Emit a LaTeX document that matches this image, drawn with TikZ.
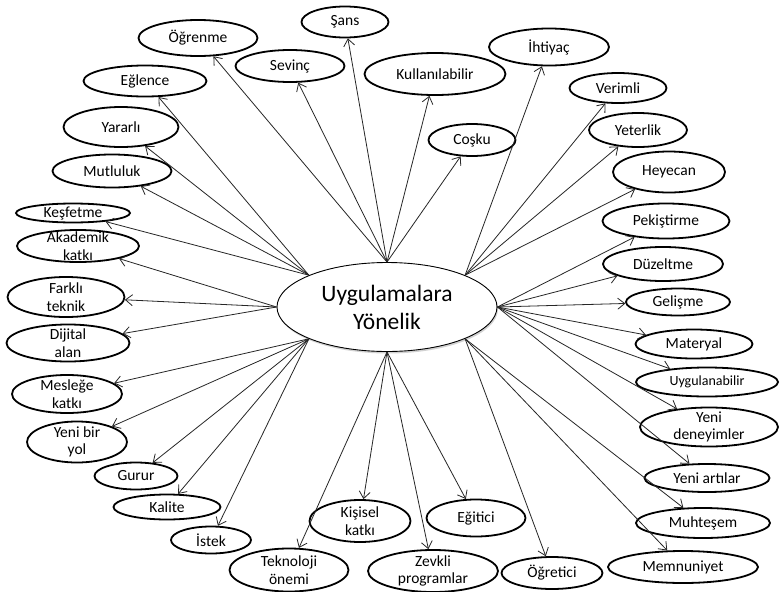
\documentclass[tikz,border=0pt]{standalone}
\usepackage{fontspec}
\setmainfont{Carlito}
\usetikzlibrary{shapes.geometric,arrows.meta,shadows}
\tikzset{
  oval/.style={ellipse, draw=black, line width=1.8pt, fill=white, inner sep=0pt},
  mainoval/.style={ellipse, draw=black, line width=0.9pt, fill=white, inner sep=0pt,
     drop shadow={shadow xshift=1pt, shadow yshift=-2pt, opacity=0.35}},
  lbl/.style={inner sep=0pt, align=center, font=\fontsize{15.5}{17.5}\selectfont},
  mainlbl/.style={inner sep=0pt, align=center, font=\fontsize{23.5}{28}\selectfont},
  arr/.style={draw=black!85, line width=0.8pt, -{Straight Barb[length=7pt,width=11pt]}}
}
\newcommand{\ov}[5]{%
  \node[oval, minimum width=#4pt, minimum height=#5pt] (#1) at (#2) {};
  \node[lbl] (#1-t) at (#1) {#3};}
\begin{document}
\begin{tikzpicture}[x=1pt,y=-1pt]
\useasboundingbox (0,0) rectangle (780,592);
\fill[white] (0,0) rectangle (780,592);

\node[mainoval, minimum width=220pt, minimum height=89pt] (main) at (387,307) {};
\node[mainlbl] (main-t) at (main) {Uygulamalara\\Yönelik};

\ov{ogrenme}{198,38}{Öğrenme}{119}{36}
\ov{sans}{345,22}{Şans}{87}{31}
\ov{sevinc}{290,66}{Sevinç}{109}{32}
\ov{eglence}{145,81}{Eğlence}{123}{31}
\ov{yararli}{121,127}{Yararlı}{115}{40}
\ov{mutluluk}{112,171}{Mutluluk}{119}{33}
\ov{kullan}{435,74}{Kullanılabilir}{141}{42}
\ov{ihtiyac}{549,47}{İhtiyaç}{120}{37}
\ov{verimli}{618,88}{Verimli}{97}{30}
\ov{cosku}{472,140}{Coşku}{87}{32}
\ov{yeterlik}{638,130}{Yeterlik}{98}{34}
\ov{heyecan}{669,172}{Heyecan}{112}{41}
\ov{kesfetme}{73,213}{Keşfetme}{114}{19}
\ov{akademik}{78,246}{Akademik\\katkı}{122}{32}
\ov{farkli}{66,297}{Farklı\\teknik}{117}{40}
\ov{dijital}{68,343}{Dijital\\alan}{123}{37}
\ov{meslege}{67,394}{Mesleğe\\katkı}{110}{38}
\ov{pekistirme}{666,221}{Pekiştirme}{127}{35}
\ov{duzeltme}{663,264}{Düzeltme}{120}{34}
\ov{gelisme}{678,302}{Gelişme}{104}{27}
\ov{materyal}{694,344}{Materyal}{117}{29}
\ov{uygulanabilir}{707,382}{\fontsize{14}{16}\selectfont Uygulanabilir}{142}{29}
\ov{yenibir}{77,442}{Yeni bir\\yol}{100}{41}
\ov{gurur}{136,476}{Gurur}{83}{27}
\ov{kalite}{167,507}{Kalite}{107}{25}
\ov{istek}{211,540}{İstek}{80}{27}
\ov{teknoloji}{289,570}{Teknoloji\\önemi}{119}{43}
\ov{kisisel}{360,521}{Kişisel\\katkı}{101}{42}
\ov{yenideneyim}{709,427}{Yeni\\deneyimler}{138}{39}
\ov{yeniarti}{707,478}{Yeni artılar}{125}{28}
\ov{egitici}{476,518}{Eğitici}{99}{37}
\ov{muhtesem}{703,523}{Muhteşem}{134}{30}
\ov{zevkli}{433,571}{Zevkli\\programlar}{130}{42}
\ov{ogretici}{552,573}{Öğretici}{101}{32}
\ov{memnuniyet}{683,567}{Memnuniyet}{150}{32}

% top-left
\foreach \t in {eglence,yararli,mutluluk,kesfetme}
  \draw[arr] (main.north west) -- (\t);
% top
\foreach \t in {ogrenme,sevinc,sans,kullan,cosku}
  \draw[arr] (main.north) -- (\t);
% top-right
\foreach \t in {ihtiyac,verimli,yeterlik,heyecan}
  \draw[arr] (main.north east) -- (\t);
% left
\foreach \t in {akademik,farkli,dijital}
  \draw[arr] (main.west) -- (\t);
% right
\foreach \t in {pekistirme,duzeltme,gelisme,materyal,uygulanabilir,yenideneyim,yeniarti}
  \draw[arr] (main.east) -- (\t);
% bottom-left
\foreach \t in {meslege,yenibir,gurur,kalite,istek}
  \draw[arr] (main.south west) -- (\t);
% bottom
\foreach \t in {teknoloji,kisisel,zevkli,egitici}
  \draw[arr] (main.south) -- (\t);
% bottom-right
\foreach \t in {ogretici,memnuniyet,muhtesem}
  \draw[arr] (main.south east) -- (\t);
\end{tikzpicture}
\end{document}
